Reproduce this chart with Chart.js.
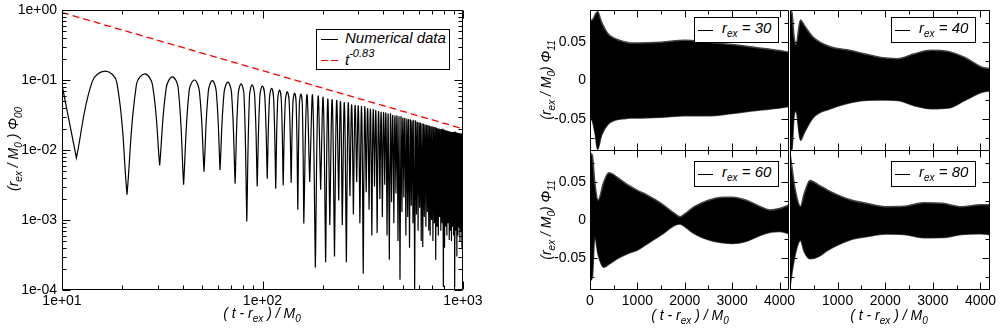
<!DOCTYPE html>
<html>
<head>
<meta charset="utf-8">
<script src="https://cdn.jsdelivr.net/npm/chart.js@4.4.1/dist/chart.umd.min.js"></script>
<style>
  body { margin: 0; background: #fff; }
  #page { position: relative; width: 1000px; height: 330px; overflow: hidden; font-family: 'Liberation Sans', Arial, Helvetica, sans-serif; }
  #page canvas { position: absolute; left: 0; top: 0; }
  .lbl { position: absolute; font-style: italic; font-size: 14px; white-space: nowrap; color: #000; line-height: 1; }
  .lbl sub { font-size: 10px; vertical-align: -4px; line-height: 0; }
  .lbl sup { font-size: 11px; vertical-align: 8px; line-height: 0; }
  .rot { transform: translate(-50%, -50%) rotate(-90deg); }
  .ctr { transform: translate(-50%, -50%); }
  .key { position: absolute; border: 1px solid #000; background: #fff; box-sizing: border-box; }
  .key .lbl { font-size: 15px; }
  .swatch { position: absolute; height: 0; border-top: 1px solid #000; }
  .dash { position: absolute; width: 7px; height: 0; border-top: 1.3px solid #f00; }
</style>
</head>
<body>
<div id="page">
  <canvas id="decay" width="1000" height="330"></canvas>
  <canvas id="p30" width="1000" height="330"></canvas>
  <canvas id="p40" width="1000" height="330"></canvas>
  <canvas id="p60" width="1000" height="330"></canvas>
  <canvas id="p80" width="1000" height="330"></canvas>

  <!-- axis titles -->
  <div class="lbl rot" style="left:13px; top:149px">(r<sub>ex</sub> / M<sub>0</sub> ) &Phi;<sub>00</sub></div>
  <div class="lbl ctr" style="left:262px; top:313px">( t - r<sub>ex</sub> ) / M<sub>0</sub></div>
  <div class="lbl rot" style="left:546px; top:80px">(r<sub>ex</sub> / M<sub>0</sub>) &Phi;<sub>11</sub></div>
  <div class="lbl rot" style="left:546px; top:220px">(r<sub>ex</sub> / M<sub>0</sub>) &Phi;<sub>11</sub></div>
  <div class="lbl ctr" style="left:690px; top:315px">( t - r<sub>ex</sub> ) / M<sub>0</sub></div>
  <div class="lbl ctr" style="left:889px; top:315px">( t - r<sub>ex</sub> ) / M<sub>0</sub></div>

  <!-- legends -->
  <div class="key" style="left:316px; top:29px; width:134px; height:41px">
    <div class="swatch" style="left:4px; top:9px; width:17px"></div>
    <div class="lbl" style="left:28px; top:0px">Numerical data</div>
    <div class="dash" style="left:4px; top:30px"></div>
    <div class="dash" style="left:14px; top:30px"></div>
    <div class="lbl" style="left:28px; top:22px">t<sup>-0.83</sup></div>
  </div>
  <div class="key" style="left:694px; top:17px; width:85px; height:26px">
    <div class="swatch" style="left:3px; top:12px; width:15px"></div>
    <div class="lbl" style="left:27px; top:2px">r<sub>ex</sub> = 30</div>
  </div>
  <div class="key" style="left:891px; top:17px; width:85px; height:26px">
    <div class="swatch" style="left:3px; top:12px; width:15px"></div>
    <div class="lbl" style="left:27px; top:2px">r<sub>ex</sub> = 40</div>
  </div>
  <div class="key" style="left:694px; top:161px; width:85px; height:26px">
    <div class="swatch" style="left:3px; top:12px; width:15px"></div>
    <div class="lbl" style="left:27px; top:2px">r<sub>ex</sub> = 60</div>
  </div>
  <div class="key" style="left:891px; top:161px; width:85px; height:26px">
    <div class="swatch" style="left:3px; top:12px; width:15px"></div>
    <div class="lbl" style="left:27px; top:2px">r<sub>ex</sub> = 80</div>
  </div>
</div>

<script>
// ---- Phi_00 decay (log-log) ----
// zeros of the oscillation: time and the depth the dip reaches
const minT = [11.8, 21.1, 30.7, 40.4, 51.1, 61.4, 73, 83.5, 94.1, 105.6,
  116.4, 126.8, 139, 150, 160.7, 172, 183.5, 195, 206.5, 216.6,
  228.6, 239.9, 250, 262, 273, 284, 295, 306, 318, 329,
  340, 351, 362, 373, 385, 396, 407, 418, 429, 440,
  452, 463, 474, 485, 496, 507, 519, 530, 541, 552,
  563, 574, 586, 597, 608, 619, 630, 641, 653, 664,
  675, 686, 697, 708, 720, 731, 742, 753, 764, 775,
  787, 798, 809, 820, 831, 842, 854, 865, 876, 887,
  898, 909, 921, 932, 943, 954, 965, 976, 988, 999];
const minV = [0.0077, 0.0023, 0.006, 0.0032, 0.0049, 0.0052, 0.0033, 0.00095, 0.003, 0.0039,
  0.0028, 0.0031, 0.0034, 0.0014, 0.00089, 0.0035, 0.00021, 0.0027, 0.00025, 0.00085,
  0.0003, 0.0019, 0.00085, 0.00025, 0.0022, 0.0012, 0.0035, 0.0009, 0.00017, 0.0025,
  0.0014, 0.0006, 0.003, 0.00065, 0.002, 0.0011, 0.0032, 0.0006, 0.00027, 0.0018,
  0.0009, 0.0024, 0.0005, 0.00014, 0.0013, 0.0021, 0.0006, 0.0011, 0.0004, 0.0016,
  0.0009, 0.0001, 0.0012, 0.0007, 0.0015, 0.0005, 0.00041, 0.0011, 0.0008, 0.0013,
  0.0007, 0.0006, 0.001, 0.0005, 0.0009, 0.00027, 0.0008, 0.0006, 0.0011, 0.0007,
  0.0009, 0.00011, 0.0004, 0.0008, 0.0006, 0.0009, 0.00052, 0.0007, 0.0005, 0.0008,
  0.0006, 0.00011, 0.0007, 0.0003, 0.0006, 0.0008, 0.0005, 0.0007, 0.0004, 0.00027];
// top of each lobe between two zeros
const peakV = [0.134, 0.122, 0.111, 0.100, 0.098, 0.093, 0.088, 0.085, 0.082, 0.076,
  0.072, 0.068, 0.065, 0.063, 0.061, 0.059, 0.057, 0.055, 0.053, 0.052,
  0.050, 0.049, 0.047, 0.046, 0.044, 0.043, 0.042, 0.041, 0.040, 0.039,
  0.038, 0.037, 0.036, 0.035, 0.0345, 0.034, 0.033, 0.0325, 0.032, 0.031,
  0.0305, 0.030, 0.0295, 0.029, 0.0285, 0.028, 0.0275, 0.027, 0.0265, 0.026,
  0.0256, 0.0252, 0.0248, 0.0244, 0.024, 0.0236, 0.0232, 0.0228, 0.0225, 0.0222,
  0.0219, 0.0216, 0.0213, 0.021, 0.0207, 0.0204, 0.0201, 0.0199, 0.0197, 0.0195,
  0.0193, 0.0191, 0.0189, 0.0187, 0.0185, 0.0183, 0.0181, 0.0179, 0.0178, 0.0177,
  0.0176, 0.0175, 0.0174, 0.0173, 0.0172, 0.0171, 0.017, 0.0169, 0.0168];
// level at a quarter and three quarters of the wide early lobes
const riseV = [0.094, 0.086, 0.078, 0.071, 0.069, 0.066, 0.062, 0.060, 0.058, 0.054, 0.051, 0.048, 0.046, 0.044];
const fallV = [0.092, 0.084, 0.077, 0.070, 0.068, 0.065, 0.061, 0.059, 0.057, 0.053, 0.050, 0.047, 0.045, 0.043];
const startV = 0.085, endV = 0.0168;

// t^-0.83 guide line end points
const fitT = [10, 1000];
const fitV = [0.92, 0.0201];

const xTickVals = [10, 100, 1000];
const xTickLabels = ['1e+01', '1e+02', '1e+03'];
const yTickVals = [1e-4, 1e-3, 1e-2, 1e-1, 1];
const yTickLabels = ['1e-04', '1e-03', '1e-02', '1e-01', '1e+00'];

// ---- Phi_11 envelopes, one panel per extraction radius ----
const t30 = [0, 60, 110, 160, 240, 380, 520, 700, 850, 1000, 1500, 2000, 2500, 3000, 3500, 4000, 4200];
const up30 = [0.078, 0.08, 0.086, 0.09, 0.077, 0.061, 0.055, 0.051, 0.049, 0.049, 0.050, 0.0526, 0.050, 0.047, 0.043, 0.039, 0.037];
const lo30 = [-0.045, -0.055, -0.07, -0.09, -0.072, -0.057, -0.052, -0.05, -0.049, -0.049, -0.048, -0.046, -0.046, -0.043, -0.039, -0.036, -0.034];

const t40 = [0, 40, 80, 125, 220, 300, 494, 847, 1200, 1554, 1907, 2260, 2613, 2967, 3320, 3673, 4026, 4200];
const up40 = [0.085, 0.09, 0.06, 0.047, 0.079, 0.072, 0.056, 0.044, 0.040, 0.035, 0.030, 0.0285, 0.035, 0.0395, 0.038, 0.030, 0.0175, 0.0154];
const lo40 = [-0.06, -0.092, -0.05, -0.04, -0.078, -0.068, -0.048, -0.037, -0.030, -0.026, -0.0255, -0.026, -0.033, -0.037, -0.036, -0.026, -0.0154, -0.0134];

const t60 = [0, 50, 100, 170, 290, 400, 600, 800, 1000, 1200, 1500, 1800, 1900, 2000, 2200, 2500, 2800, 3000, 3300, 3600, 3800, 4000, 4200];
const up60 = [0.088, 0.085, 0.05, 0.026, 0.05, 0.062, 0.055, 0.046, 0.039, 0.033, 0.022, 0.0079, 0.0044, 0.0079, 0.0175, 0.026, 0.030, 0.030, 0.026, 0.0175, 0.013, 0.015, 0.0197];
const lo60 = [-0.08, -0.075, -0.022, -0.045, -0.062, -0.058, -0.05, -0.044, -0.0395, -0.0316, -0.0197, -0.0066, -0.0053, -0.0088, -0.018, -0.026, -0.030, -0.031, -0.028, -0.020, -0.016, -0.015, -0.018];

const t80 = [0, 40, 110, 220, 300, 420, 600, 800, 1000, 1300, 1600, 2000, 2400, 2800, 3200, 3600, 4000, 4200];
const up80 = [0.088, 0.07, 0.04, 0.018, 0.035, 0.052, 0.046, 0.039, 0.033, 0.026, 0.022, 0.0175, 0.018, 0.0228, 0.022, 0.0175, 0.02, 0.02];
const lo80 = [-0.088, -0.07, -0.045, -0.027, -0.042, -0.051, -0.048, -0.0395, -0.033, -0.0254, -0.022, -0.0184, -0.019, -0.0232, -0.023, -0.019, -0.018, -0.019];

const rTickVals = [0, 1000, 2000, 3000, 4000];
const rTickLabels = ['0', '1000', '2000', '3000', '4000'];
const phiTickVals = [-0.05, 0, 0.05];
const phiTickLabels = ['-0.05', '0', '0.05'];

const XH = 40;

Chart.defaults.font.family = "'Liberation Sans', Arial, Helvetica, sans-serif";
Chart.defaults.font.size = 14;
Chart.defaults.color = '#000';

// box around the plot area with inward ticks on all four sides
const frameTicks = {
  id: 'frameTicks',
  afterDraw(chart, args, o) {
    const ctx = chart.ctx, a = chart.chartArea;
    const sx = chart.scales.x, sy = chart.scales.y;
    const L = Math.round(a.left) + 0.5, R = Math.round(a.right) - 0.5;
    const T = Math.round(a.top) + 0.5, B = Math.round(a.bottom) - 0.5;
    ctx.save();
    ctx.strokeStyle = '#000';
    ctx.lineWidth = 1;
    ctx.beginPath();
    ctx.rect(L, T, R - L, B - T);
    const xMarks = (vals, len) => vals.forEach(v => {
      const px = Math.round(sx.getPixelForValue(v)) + 0.5;
      ctx.moveTo(px, B); ctx.lineTo(px, B - len);
      ctx.moveTo(px, T); ctx.lineTo(px, T + len);
    });
    const yMarks = (vals, len) => vals.forEach(v => {
      const py = Math.round(sy.getPixelForValue(v)) + 0.5;
      ctx.moveTo(L, py); ctx.lineTo(L + len, py);
      ctx.moveTo(R, py); ctx.lineTo(R - len, py);
    });
    xMarks(o.xMajor, o.major); xMarks(o.xMinor, o.minor);
    yMarks(o.yMajor, o.major); yMarks(o.yMinor, o.minor);
    ctx.stroke();
    ctx.restore();
  }
};

function axis(extra) {
  return Object.assign({
    grid: { display: false, drawTicks: false },
    border: { display: false }
  }, extra);
}

// pin the axis box size so the plot areas land where we want them
function fixSize(prop, size) {
  return function (s) {
    s[prop] = size;
    s.paddingLeft = s.paddingRight = s.paddingTop = s.paddingBottom = 0;
  };
}

// minor ticks for the log axes
const xMinorL = [], yMinorL = [];
for (let d = 10; d < 1000; d *= 10) for (let m = 2; m <= 9; m++) xMinorL.push(m * d);
for (let e = -4; e < 0; e++) for (let m = 2; m <= 9; m++) yMinorL.push(m * Math.pow(10, e));

// each zero is listed twice so the spline comes to a sharp dip there
const curve = [{ x: 10, y: startV }];
minT.forEach((t, i) => {
  curve.push({ x: t, y: minV[i] }, { x: t, y: minV[i] });
  if (i + 1 < minT.length && i < peakV.length) {
    const w = minT[i + 1] - t;
    if (i < riseV.length) curve.push({ x: t + w / 4, y: riseV[i] });
    curve.push({ x: t + w / 2, y: peakV[i] });
    if (i < fallV.length) curve.push({ x: t + 3 * w / 4, y: fallV[i] });
  }
});
curve.push({ x: 1000, y: endV });

new Chart(document.getElementById('decay'), {
  type: 'line',
  data: {
    datasets: [
      {
        label: 't^-0.83',
        data: fitT.map((t, i) => ({ x: t, y: fitV[i] })),
        borderColor: '#ff0000', borderWidth: 1.3, borderDash: [7, 4],
        pointRadius: 0, fill: false
      },
      {
        label: 'Numerical data',
        data: curve,
        borderColor: '#000', borderWidth: 1.2, tension: 0.4,
        pointRadius: 0, fill: false
      }
    ]
  },
  options: {
    responsive: false, animation: false, events: [],
    layout: { padding: { left: 0, top: 10, right: 1000 - 463, bottom: 0 } },
    plugins: {
      legend: { display: false }, tooltip: { enabled: false },
      frameTicks: { xMajor: xTickVals, xMinor: xMinorL, yMajor: yTickVals, yMinor: yMinorL, major: 8, minor: 4 }
    },
    scales: {
      x: axis({
        type: 'logarithmic', min: 10, max: 1000,
        afterBuildTicks: s => { s.ticks = xTickVals.map(v => ({ value: v })); },
        afterFit: fixSize('height', XH),
        ticks: { autoSkip: false, maxRotation: 0, padding: 3, callback: (v, i) => xTickLabels[i] }
      }),
      y: axis({
        type: 'logarithmic', min: 1e-4, max: 1,
        afterBuildTicks: s => { s.ticks = yTickVals.map(v => ({ value: v })); },
        afterFit: fixSize('width', 62),
        ticks: { autoSkip: false, padding: 5, callback: (v, i) => yTickLabels[i] }
      })
    }
  },
  plugins: [frameTicks]
});

function bandChart(id, area, t, up, lo, xLabelled, showY) {
  const yw = showY ? 60 : 0, xh = xLabelled ? XH : 0;
  const line = { borderColor: '#444', borderWidth: 1.5, pointRadius: 0, cubicInterpolationMode: 'monotone' };
  return new Chart(document.getElementById(id), {
    type: 'line',
    data: {
      datasets: [
        Object.assign({ data: t.map((v, i) => ({ x: v, y: up[i] })), fill: '+1', backgroundColor: '#000' }, line),
        Object.assign({ data: t.map((v, i) => ({ x: v, y: lo[i] })), fill: false }, line)
      ]
    },
    options: {
      responsive: false, animation: false, events: [],
      layout: { padding: { left: area.l - yw, top: area.t, right: 1000 - area.r, bottom: 330 - area.b - xh } },
      plugins: {
        legend: { display: false }, tooltip: { enabled: false },
        frameTicks: { xMajor: rTickVals, xMinor: [500, 1500, 2500, 3500], yMajor: phiTickVals, yMinor: [-0.075, -0.025, 0.025, 0.075], major: 7, minor: 4 }
      },
      scales: {
        x: axis({
          type: 'linear', min: 0, max: 4200,
          afterBuildTicks: s => { s.ticks = rTickVals.map(v => ({ value: v })); },
          afterFit: fixSize('height', xh),
          ticks: {
            display: !!xLabelled, autoSkip: false, maxRotation: 0, padding: 3,
            callback: v => (xLabelled && xLabelled.includes(v)) ? rTickLabels[rTickVals.indexOf(v)] : ''
          }
        }),
        y: axis({
          type: 'linear', min: -0.092, max: 0.092,
          afterBuildTicks: s => { s.ticks = phiTickVals.map(v => ({ value: v })); },
          afterFit: fixSize('width', yw),
          ticks: { display: showY, autoSkip: false, padding: 4, callback: (v, i) => phiTickLabels[i] }
        })
      }
    },
    plugins: [frameTicks]
  });
}

bandChart('p30', { l: 590, t: 10, r: 789, b: 151 }, t30, up30, lo30, null, true);
bandChart('p40', { l: 790, t: 10, r: 990, b: 151 }, t40, up40, lo40, null, false);
bandChart('p60', { l: 590, t: 150, r: 789, b: 290 }, t60, up60, lo60, rTickVals, true);
bandChart('p80', { l: 790, t: 150, r: 990, b: 290 }, t80, up80, lo80, [1000, 2000, 3000, 4000], false);
</script>
</body>
</html>
